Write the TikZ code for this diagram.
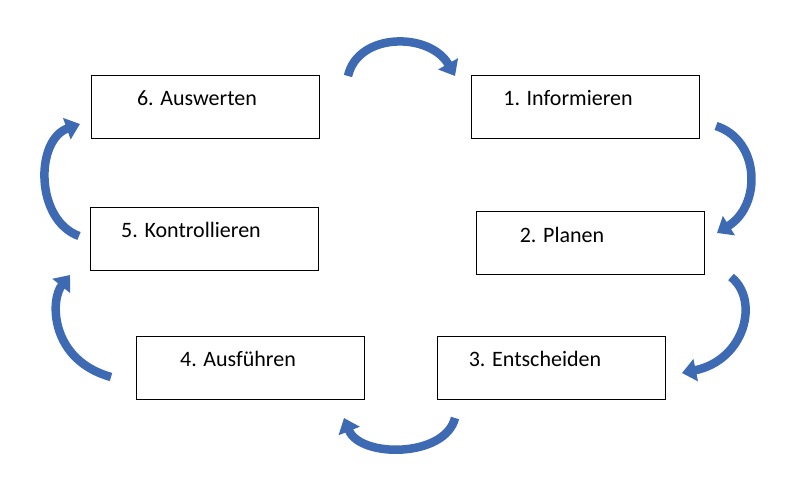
\documentclass[tikz,border=0pt]{standalone}
\usepackage{fontspec}
\setmainfont{Carlito}
\usetikzlibrary{arrows.meta}
\definecolor{arr}{HTML}{3E6AB3}
\tikzset{
 box/.style={draw=black,line width=0.9pt,minimum width=228pt,minimum height=63pt,anchor=north west},
 lbl/.style={font=\fontsize{22}{26}\selectfont,anchor=base},
 carrow/.style={arr,line width=8.5pt,-{Triangle[width=22pt,length=14pt]}}
}
\begin{document}
\begin{tikzpicture}[x=1pt,y=-1pt]
\useasboundingbox[fill=white] (0,0) rectangle (804,487);
\node[box] (b6) at (91,75) {};
\node[box] (b1) at (471,75) {};
\node[box] (b5) at (90,207) {};
\node[box] (b2) at (476,211) {};
\node[box] (b4) at (136,336) {};
\node[box] (b3) at (437,336) {};
\node[lbl] (t6) at (197,106) {6. Auswerten};
\node[lbl] (t1) at (568,106) {1. Informieren};
\node[lbl] (t5) at (191,237) {5. Kontrollieren};
\node[lbl] (t2) at (562,242) {2. Planen};
\node[lbl] (t4) at (238,366) {4. Ausführen};
\node[lbl] (t3) at (535,366) {3. Entscheiden};
\coordinate (a1s) at (348,76); \coordinate (a1e) at (455,76);
\draw[carrow] (a1s) .. controls (358,32) and (430,32) .. (a1e);
\coordinate (a2s) at (716,126); \coordinate (a2e) at (717,233);
\draw[carrow] (a2s) .. controls (760,140) and (762,205) .. (a2e);
\coordinate (a3s) at (731,277); \coordinate (a3e) at (682,373);
\draw[carrow] (a3s) .. controls (760,300) and (745,360) .. (a3e);
\coordinate (a4s) at (455,418); \coordinate (a4e) at (344,418);
\draw[carrow] (a4s) .. controls (445,458) and (360,458) .. (a4e);
\coordinate (a5s) at (111,377); \coordinate (a5e) at (70,275);
\draw[carrow] (a5s) .. controls (50,360) and (50,300) .. (a5e);
\coordinate (a6s) at (79,236); \coordinate (a6e) at (80,124);
\draw[carrow] (a6s) .. controls (35,220) and (35,140) .. (a6e);
\end{tikzpicture}
\end{document}
